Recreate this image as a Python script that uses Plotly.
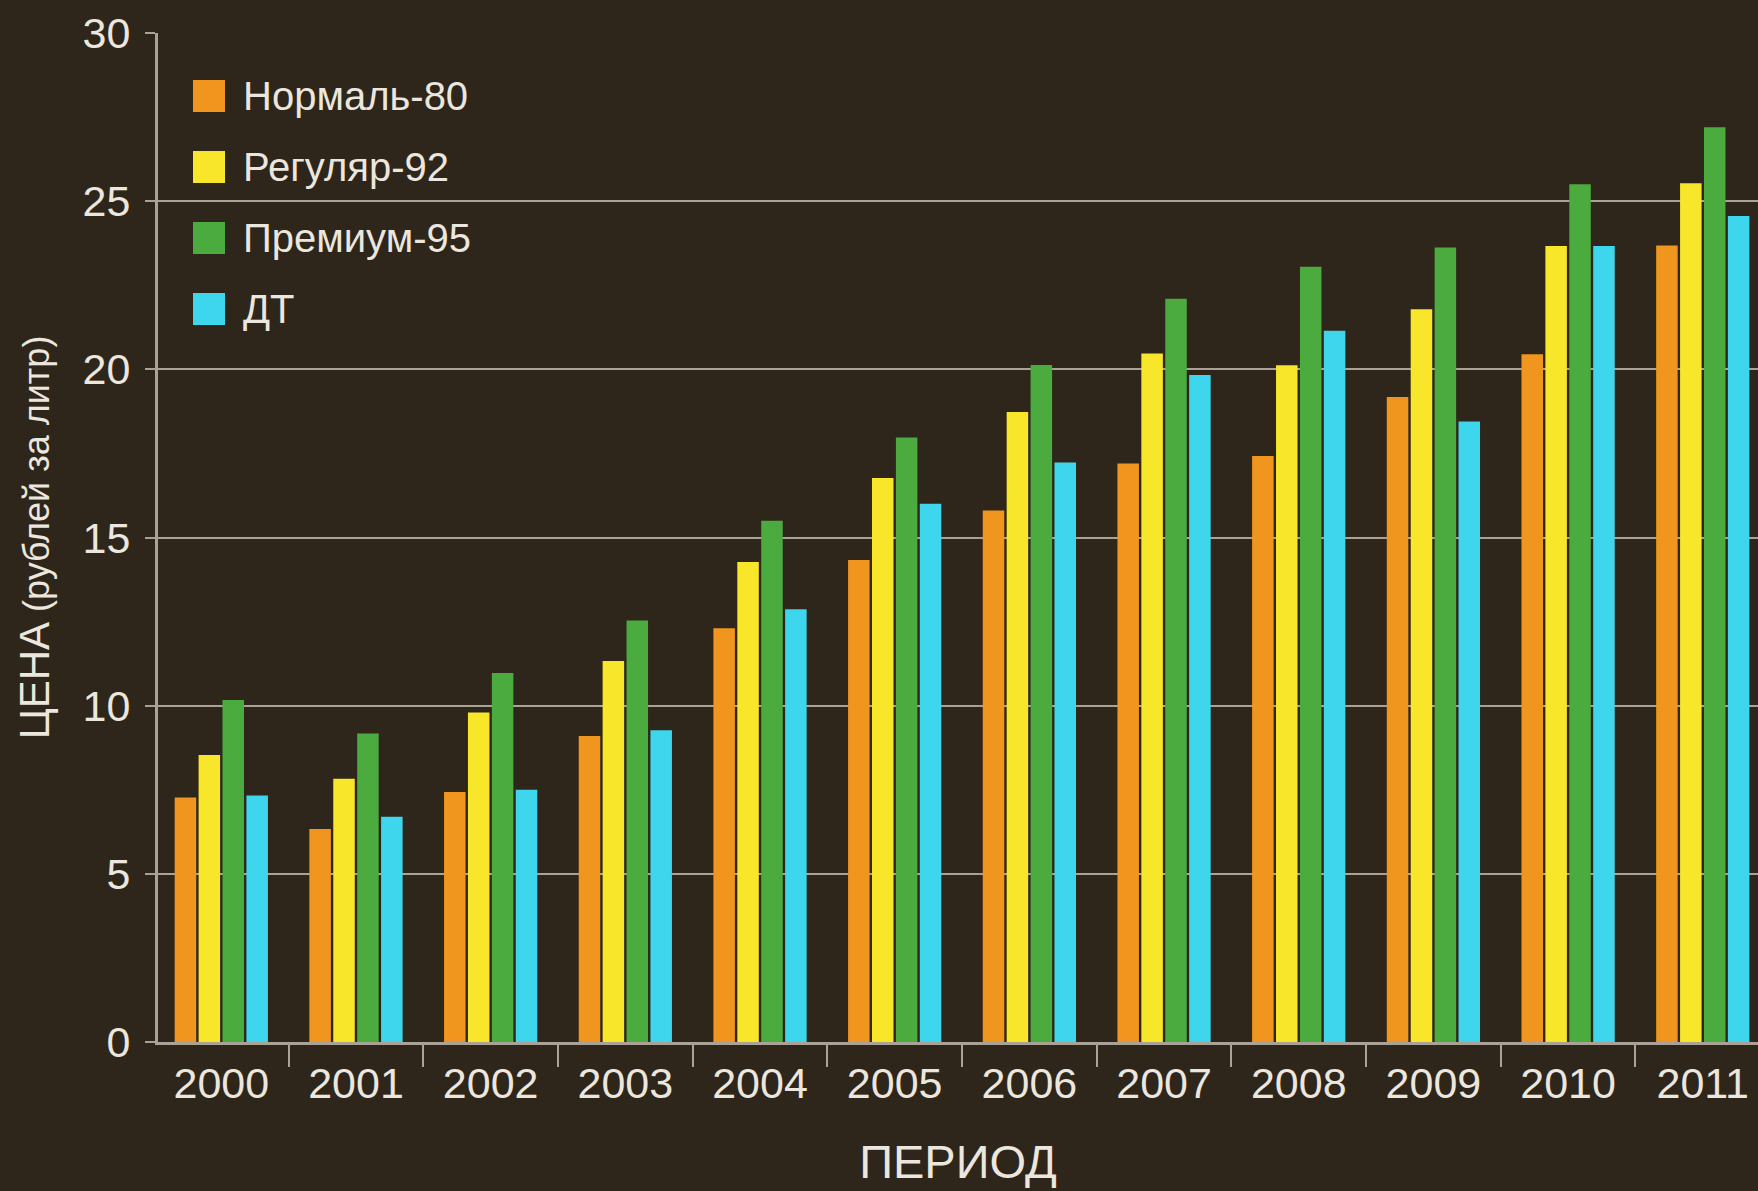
import plotly.graph_objects as go

years = ["2000", "2001", "2002", "2003", "2004", "2005", "2006", "2007", "2008", "2009", "2010", "2011"]
series_names = ["Нормаль-80", "Регуляр-92", "Премиум-95", "ДТ"]
normal80 = [7.27, 6.33, 7.43, 9.1, 12.3, 14.33, 15.8, 17.2, 17.42, 19.18, 20.45, 23.68]
regular92 = [8.53, 7.83, 9.8, 11.33, 14.27, 16.77, 18.73, 20.47, 20.12, 21.79, 23.67, 25.53]
premium95 = [10.17, 9.17, 10.97, 12.53, 15.5, 17.97, 20.13, 22.1, 23.05, 23.62, 25.5, 27.2]
diesel = [7.33, 6.7, 7.5, 9.27, 12.87, 16.0, 17.23, 19.83, 21.15, 18.45, 23.67, 24.56]
y_ticks = [0, 5, 10, 15, 20, 25, 30]

colors = ["#f0961e", "#f7e62a", "#4cab3e", "#3ed6ec"]
BG = "#2e251b"
TEXT = "#ebe6de"
GRID = "#aaa296"
NARROW = "Liberation Sans Narrow, Liberation Sans, Arial, sans-serif"
SANS = "Liberation Sans, Arial, sans-serif"

W, H = 1758, 1191
ML, MR, MT, MB = 158, 0, 33, 149
PW, PH = W - ML - MR, H - MT - MB

fig = go.Figure()
for name, vals, col in zip(series_names, [normal80, regular92, premium95, diesel], colors):
    fig.add_trace(go.Bar(
        x=years, y=vals, name=name, marker=dict(color=col, line=dict(width=0)),
        showlegend=False,
    ))

# manual legend with large square swatches (Plotly caps legend symbol size)
sq = 32
leg_x0 = 193
leg_y = [96, 167, 238, 309]
shapes = []
annotations = []
for name, col, yc in zip(series_names, colors, leg_y):
    shapes.append(dict(
        type="rect", xref="paper", yref="paper",
        x0=(leg_x0 - ML) / PW, x1=(leg_x0 + sq - ML) / PW,
        y0=(H - MB - (yc + sq / 2)) / PH, y1=(H - MB - (yc - sq / 2)) / PH,
        fillcolor=col, line=dict(width=0), layer="above",
    ))
    annotations.append(dict(
        xref="paper", yref="paper", x=(241 - ML) / PW, y=(H - MB - yc) / PH,
        xanchor="left", yanchor="middle", text=name, showarrow=False,
        font=dict(family=SANS, size=40, color=TEXT),
    ))

tick_font = dict(family=NARROW, size=43, color=TEXT)

fig.update_layout(
    width=W, height=H,
    margin=dict(l=ML, r=MR, t=MT, b=MB, pad=0),
    paper_bgcolor=BG, plot_bgcolor=BG,
    barmode="group", bargap=0.29, bargroupgap=0.1,
    shapes=shapes, annotations=annotations,
    font=dict(family=SANS, color=TEXT),
    xaxis=dict(
        type="category", range=[-0.47, 11.41],
        showline=True, linecolor=GRID, linewidth=3,
        ticks="outside", tickson="boundaries", ticklen=22, tickwidth=2, tickcolor=GRID,
        tickfont=tick_font,
        ticklabelstandoff=1,
        showgrid=False,
        title=dict(text="ПЕРИОД", font=dict(family=SANS, size=47, color=TEXT), standoff=40),
    ),
    yaxis=dict(
        range=[0, 30], tickvals=y_ticks,
        showline=True, linecolor=GRID, linewidth=3,
        ticks="outside", ticklen=10, tickwidth=2, tickcolor=GRID,
        tickfont=tick_font,
        ticklabelstandoff=6,
        showgrid=True, gridcolor=GRID, gridwidth=2,
        zeroline=False,
        title=dict(
            text="<span style='font-size:42px'>ЦЕНА</span> (рублей за литр)",
            font=dict(family=SANS, size=36, color=TEXT), standoff=22,
        ),
    ),
)

fig.write_html(
    "out.html",
    config={"displayModeBar": False},
    post_script="document.body.style.margin='0';document.body.style.overflow='hidden';",
)
